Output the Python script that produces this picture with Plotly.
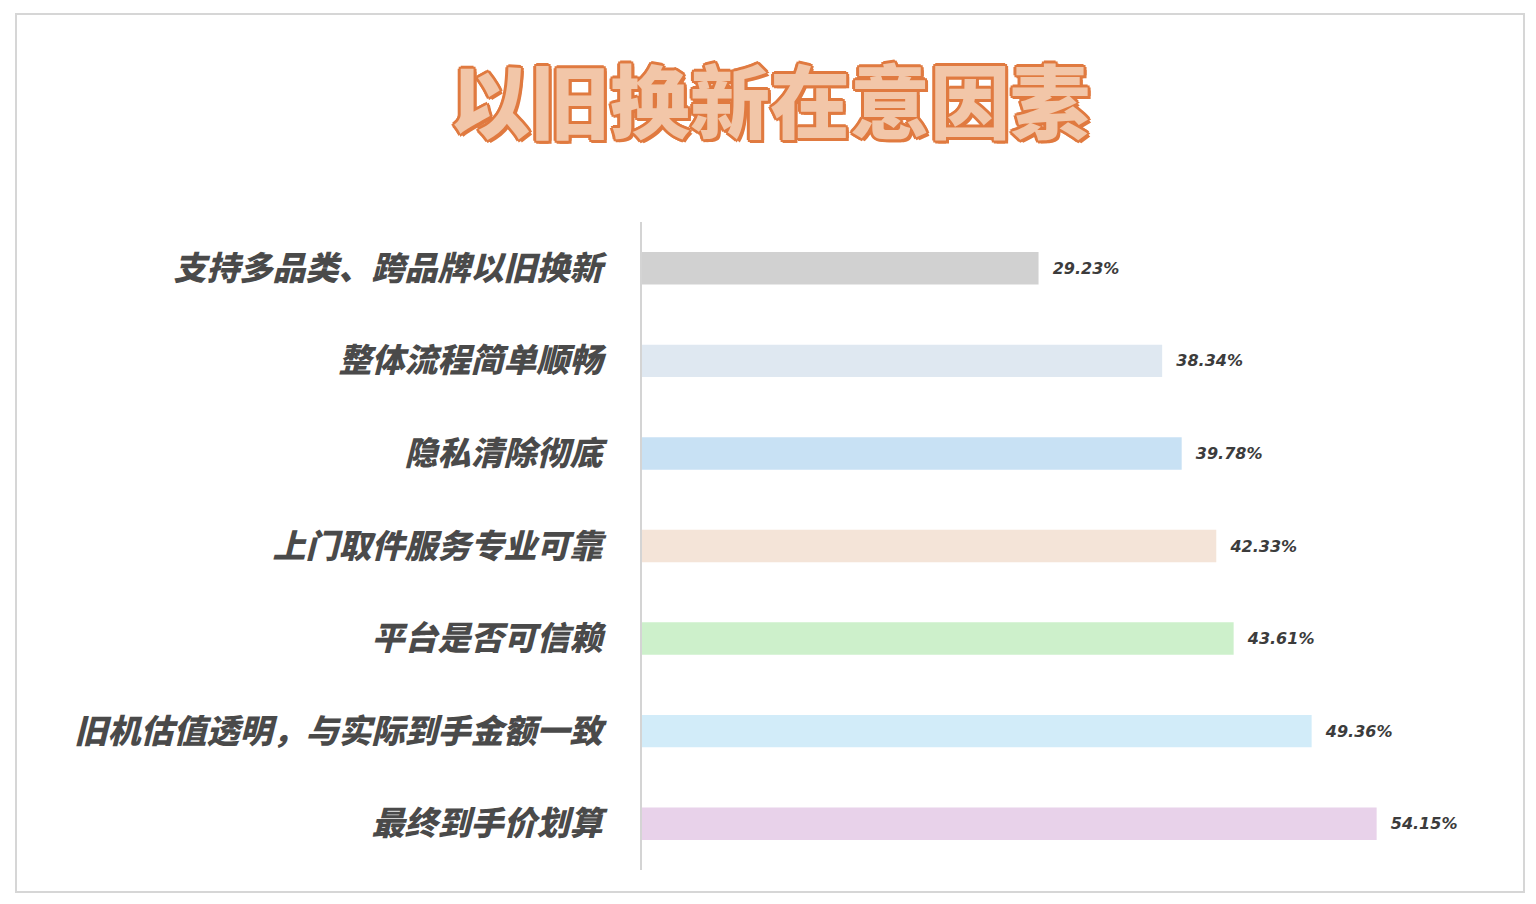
import plotly.graph_objects as go

categories = [
    "支持多品类、跨品牌以旧换新",
    "整体流程简单顺畅",
    "隐私清除彻底",
    "上门取件服务专业可靠",
    "平台是否可信赖",
    "旧机估值透明，与实际到手金额一致",
    "最终到手价划算",
]
shares = [29.23, 38.34, 39.78, 42.33, 43.61, 49.36, 54.15]
bar_colors = ["#d1d1d1", "#dfe8f1", "#c8e1f4", "#f4e4d8", "#cdf0cb", "#d2ecf9", "#e8d2ea"]

title_text = "以旧换新在意因素"

cjk = "Noto Sans CJK SC"

# the page body has an 8px margin, so shift everything up/left by that
off = 8

fig = go.Figure(
    go.Bar(
        x=shares,
        y=categories,
        orientation="h",
        width=0.35,
        marker=dict(color=bar_colors, line=dict(width=0)),
        text=["\u00a0\u00a0" + f"{v:.2f}%" for v in shares],
        textposition="outside",
        cliponaxis=False,
        outsidetextfont=dict(family="DejaVu Sans", size=16, color="#3c3c3c", weight=700, style="italic"),
        hoverinfo="skip",
    )
)

# outline look for the title via text-shadow
o = "#e07a40"
outline = ", ".join(
    f"{dx}px {dy}px 0 {o}"
    for dx, dy in [(3, 0), (-3, 0), (0, 3), (0, -3), (2, 2), (-2, -2), (2, -2), (-2, 2), (3, 3)]
)

fig.update_layout(
    width=1536,
    height=904,
    margin=dict(l=642 - off, r=80 + off, t=222 - off, b=34 + off),
    paper_bgcolor="white",
    plot_bgcolor="white",
    showlegend=False,
    title=dict(
        text=title_text,
        x=(770 - off) / 1536,
        xref="container",
        xanchor="center",
        y=1 - (104 - off) / 904,
        yref="container",
        yanchor="middle",
        font=dict(family=cjk, size=80, color="#f2c6a8", weight=900, shadow=outline),
    ),
    xaxis=dict(
        range=[0, 60],
        visible=False,
        showgrid=False,
        zeroline=False,
    ),
    yaxis=dict(
        range=[6.5, -0.5],
        showgrid=False,
        zeroline=False,
        showline=True,
        linecolor="#d4d4d4",
        linewidth=2,
        ticks="",
        ticklabelstandoff=31,
        tickfont=dict(family=cjk, size=33, color="#4a4a4a", weight=900, style="italic"),
    ),
    shapes=[
        dict(
            type="rect",
            xref="paper",
            yref="paper",
            x0=(16 - 642) / 814,
            x1=(1524 - 642) / 814,
            y0=(870 - 892) / 648,
            y1=(870 - 14) / 648,
            line=dict(color="#d6d6d6", width=2),
            fillcolor="rgba(0,0,0,0)",
            layer="below",
        )
    ],
)

fig.write_html("out.html", config={"displayModeBar": False})
